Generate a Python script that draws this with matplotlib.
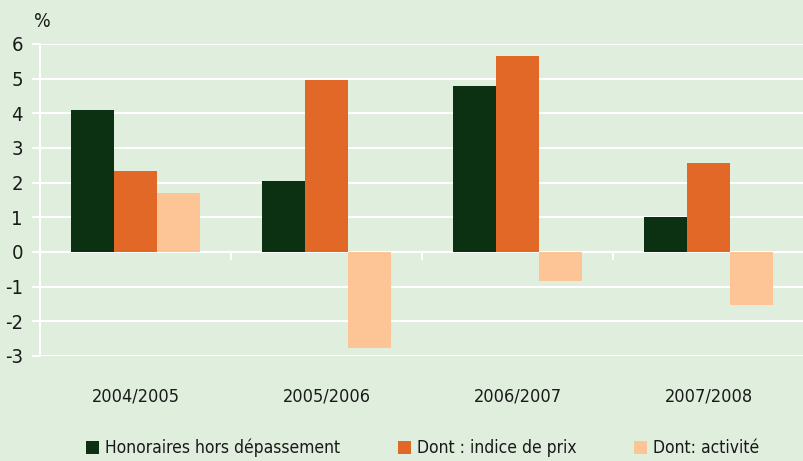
import matplotlib.pyplot as plt
import numpy as np

# donnees
periodes = ["2004/2005", "2005/2006", "2006/2007", "2007/2008"]
honoraires = [4.10, 2.05, 4.79, 1.01]
indice_prix = [2.34, 4.96, 5.65, 2.57]
activite = [1.70, -2.77, -0.84, -1.53]
series = ["Honoraires hors dépassement", "Dont : indice de prix", "Dont: activité"]
couleurs = ["#0c3112", "#e26828", "#fdc596"]

fond = "#dfeedd"
plt.rcParams["axes.unicode_minus"] = False
plt.rcParams["font.family"] = ["DejaVu Sans"]
plt.rcParams["font.stretch"] = "condensed"

fig = plt.figure(figsize=(8.04, 4.61), dpi=100, facecolor=fond)
ax = fig.add_axes([0.0498, 0.228, 0.9502, 0.6766])
ax.set_facecolor(fond)

x = np.arange(len(periodes))
w = 0.224
for i, (vals, nom) in enumerate(zip([honoraires, indice_prix, activite], series)):
    ax.bar(x + (i - 1) * w, vals, w, color=couleurs[i], label=nom, zorder=3)

ax.set_xlim(-0.5, 3.5)
ax.set_ylim(-3, 6)
ax.set_yticks(range(-3, 7))
ax.yaxis.grid(True, color="white", lw=1.5, zorder=1)
ax.set_axisbelow(True)
ax.axhline(0, color="white", lw=1.5, zorder=2)

for s in ["top", "right", "bottom"]:
    ax.spines[s].set_visible(False)
ax.spines["left"].set_color("white")
ax.spines["left"].set_linewidth(1.5)

ax.tick_params(axis="y", colors="white", length=5.8, width=1.5, pad=6.5)
for lab in ax.get_yticklabels():
    lab.set_color("#1a1a1a")
    lab.set_fontsize(14.5)
    lab.set_fontstretch("condensed")

ax.set_xticks([])
for xb in [0.5, 1.5, 2.5]:
    ax.plot([xb, xb], [0, -0.2], color="white", lw=1.5, zorder=2)
for xi, p in zip(x, periodes):
    ax.text(xi, -4.33, p, ha="center", va="baseline", fontsize=13,
            fontstretch="condensed", color="#1a1a1a")

fig.text(0.042, 0.954, "%", ha="left", va="center", fontsize=14,
         fontstretch="condensed", color="#1a1a1a")

leg = fig.legend(loc="center left", bbox_to_anchor=(0.107, 0.028), ncol=3,
                 frameon=False, prop={"size": 12.5, "stretch": "condensed"},
                 handlelength=0.75, handleheight=0.75, handletextpad=0.35,
                 columnspacing=3.3, borderpad=0, borderaxespad=0)
for t in leg.get_texts():
    t.set_color("#1a1a1a")

fig.savefig("out.png", dpi=100, facecolor=fond)
